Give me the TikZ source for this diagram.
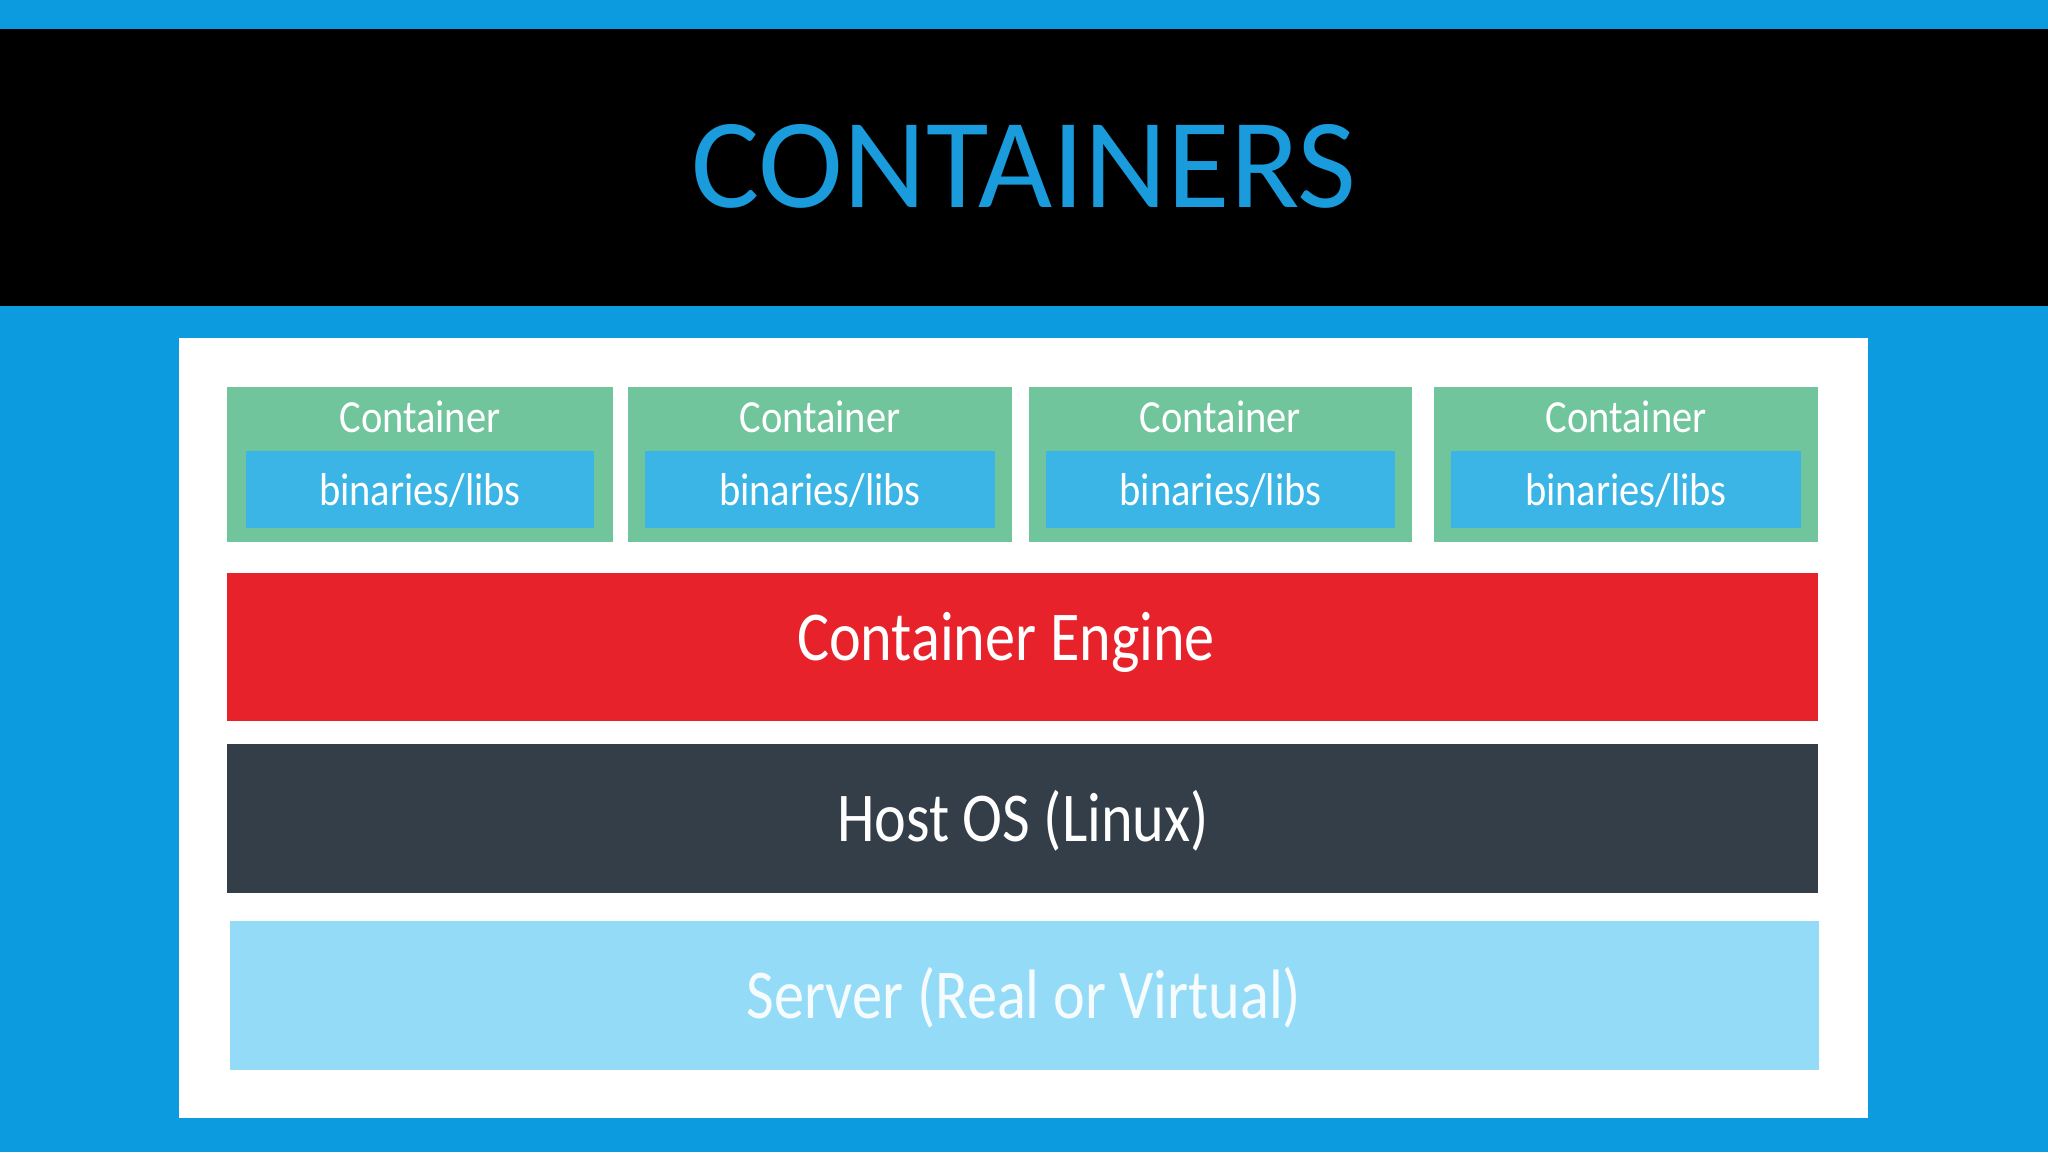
\documentclass[tikz,border=0pt]{standalone}
\usepackage{fontspec}
\setmainfont{Carlito}
\newfontfamily\bigfont[FakeStretch=0.86]{Carlito}
\newfontfamily\lblfont[FakeStretch=0.88]{Carlito}
\definecolor{topblue}{HTML}{0B9BDE}
\definecolor{titleblue}{HTML}{1A9BDB}
\definecolor{cgreen}{HTML}{70C59C}
\definecolor{cblue}{HTML}{3BB4E6}
\definecolor{cred}{HTML}{E7222B}
\definecolor{cdark}{HTML}{343E48}
\definecolor{clight}{HTML}{94DBF7}
\tikzset{
  lbl/.style={text=white, inner sep=0pt, font=\lblfont\fontsize{46}{54}\selectfont},
  big/.style={text=white, inner sep=0pt, font=\bigfont\fontsize{70}{82}\selectfont},
}
\begin{document}
\begin{tikzpicture}[x=1pt,y=-1pt]
\useasboundingbox (0,0) rectangle (2048,1152);
\fill[topblue] (0,0) rectangle (2048,1152);
\fill[black] (0,29) rectangle (2048,306);
\node[text=titleblue, inner sep=0pt, font=\fontsize{128}{140}\selectfont] (title) at (1024,166) {CONTAINERS};
\fill[white] (179,338) rectangle (1868,1118);
% containers
\foreach \i/\a/\b/\c/\d in {1/227/613/246/594, 2/628/1012/645/995, 3/1029/1412/1046/1395, 4/1434/1818/1451/1801}{
  \fill[cgreen] (\a,387) rectangle (\b,542);
  \fill[cblue] (\c,451) rectangle (\d,528);
  \node[lbl] (c\i) at ({(\a+\b)/2},417) {Container};
  \node[lbl] (b\i) at ({(\c+\d)/2},490) {binaries/libs};
}
\fill[cred] (227,573) rectangle (1818,721);
\node[big] (engine) at (1006,642) {Container Engine};
\fill[cdark] (227,744) rectangle (1818,893);
\node[big] (host) at (1023,821) {Host OS (Linux)};
\fill[clight] (230,921) rectangle (1819,1070);
\node[big, text=white!92!clight] (server) at (1024,998) {Server (Real or Virtual)};
\end{tikzpicture}
\end{document}
